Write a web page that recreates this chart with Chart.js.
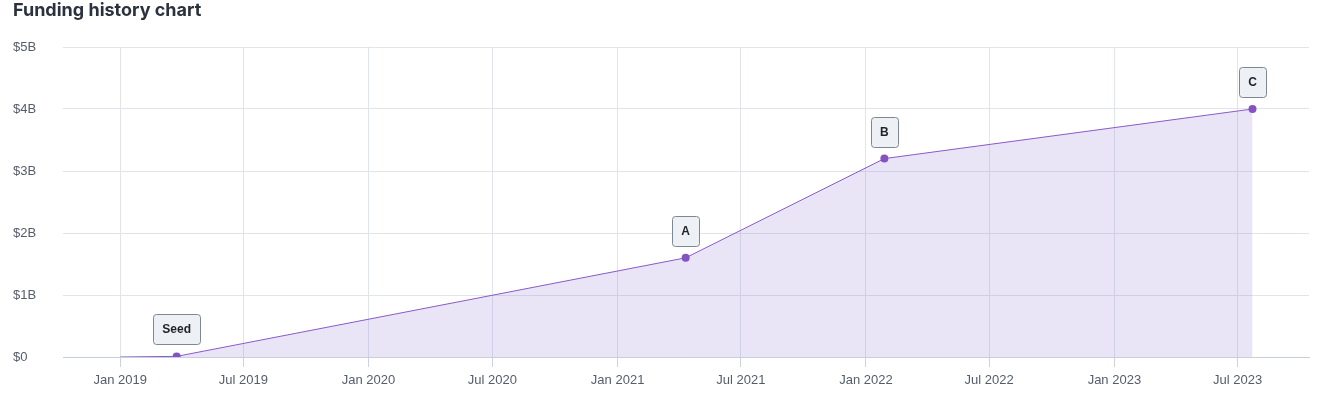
<!DOCTYPE html>
<html>
<head>
<meta charset="utf-8">
<script src="https://cdn.jsdelivr.net/npm/chart.js@4.4.1/dist/chart.umd.min.js"></script>
<style>
  html, body { margin: 0; padding: 0; background: #fff; }
  #wrap { width: 1329px; height: 396px; position: relative; }
</style>
</head>
<body>
<div id="wrap"><canvas id="fundingChart"></canvas></div>
<script>
// funding rounds (values in $B)
const roundDates = ['2019-01-01', '2019-03-25', '2021-04-11', '2022-01-28', '2023-07-23'];
const roundValues = [0, 0.01, 1.6, 3.2, 4.0];
const roundLabels = ['', 'Seed', 'A', 'B', 'C'];

// x axis ticks and range
const tickDates = ['2019-01-01', '2019-07-01', '2020-01-01', '2020-07-01', '2021-01-01',
                   '2021-07-01', '2022-01-01', '2022-07-01', '2023-01-01', '2023-07-01'];
const rangeStart = '2018-10-09';
const rangeEnd = '2023-10-14';

const monthNames = ['Jan', 'Feb', 'Mar', 'Apr', 'May', 'Jun', 'Jul', 'Aug', 'Sep', 'Oct', 'Nov', 'Dec'];
const ts = (d) => Date.parse(d + 'T00:00:00Z');

const points = roundDates.map((d, i) => ({ x: ts(d), y: roundValues[i] }));

// draws the small boxed round name above each point
const roundLabelPlugin = {
    id: 'roundLabels',
    afterDatasetsDraw(chart) {
        const ctx = chart.ctx;
        const meta = chart.getDatasetMeta(0);
        ctx.save();
        ctx.font = 'bold 12px "Liberation Sans", Arial, sans-serif';
        ctx.textAlign = 'center';
        ctx.textBaseline = 'middle';
        meta.data.forEach((pt, i) => {
            const text = roundLabels[i];
            if (!text) return;
            const w = Math.round(ctx.measureText(text).width) + 18;
            const h = 30;
            const x = Math.round(pt.x - w / 2) + 0.5;
            const y = Math.round(pt.y - 12 - h) + 0.5;
            ctx.beginPath();
            ctx.roundRect(x, y, w, h, 3);
            ctx.fillStyle = '#edf0f5';
            ctx.fill();
            ctx.lineWidth = 1;
            ctx.strokeStyle = '#7f8794';
            ctx.stroke();
            ctx.fillStyle = '#1f2328';
            ctx.fillText(text, pt.x, y + h / 2);
        });
        ctx.restore();
    }
};

new Chart(document.getElementById('fundingChart'), {
    type: 'line',
    data: {
        datasets: [{
            data: points,
            borderColor: '#8a5ac6',
            borderWidth: 1,
            backgroundColor: 'rgba(124, 99, 204, 0.17)',
            fill: 'origin',
            tension: 0,
            pointRadius: (c) => c.dataIndex === 0 ? 0 : 4,
            pointBackgroundColor: '#8552c1',
            pointBorderWidth: 0,
            pointHoverRadius: 4
        }]
    },
    options: {
        responsive: true,
        maintainAspectRatio: false,
        animation: false,
        layout: { padding: { left: 13, right: 20, top: 0, bottom: 0 } },
        scales: {
            x: {
                type: 'linear',
                min: ts(rangeStart),
                max: ts(rangeEnd),
                afterBuildTicks: (scale) => {
                    scale.ticks = tickDates.map(d => ({ value: ts(d) }));
                },
                afterFit: (scale) => { scale.height = 39; },
                grid: {
                    color: '#e1e5eb',
                    tickLength: 10,
                    tickColor: '#ccd3dc'
                },
                border: { color: '#c6cfda' },
                ticks: {
                    color: '#555d6b',
                    padding: 6,
                    maxRotation: 0,
                    autoSkip: false,
                    font: { size: 13, family: '"Liberation Sans", Arial, sans-serif' },
                    callback: (v) => {
                        const d = new Date(v);
                        return monthNames[d.getUTCMonth()] + ' ' + d.getUTCFullYear();
                    }
                }
            },
            y: {
                min: 0,
                max: 5,
                afterFit: (scale) => { scale.width = 50; },
                grid: { color: '#e1e5eb', drawTicks: false },
                border: { display: false },
                ticks: {
                    stepSize: 1,
                    crossAlign: 'far',
                    color: '#555d6b',
                    font: { size: 13, family: '"Liberation Sans", Arial, sans-serif' },
                    callback: (v) => v === 0 ? '$0' : '$' + v + 'B'
                }
            }
        },
        plugins: {
            legend: { display: false },
            tooltip: { enabled: false },
            title: {
                display: true,
                text: 'Funding history chart',
                align: 'start',
                color: '#2b313d',
                font: { size: 18, weight: 'bold', family: 'Inter, "Noto Sans", sans-serif' },
                padding: { top: 0, bottom: 25.4 }
            }
        }
    },
    plugins: [roundLabelPlugin]
});
</script>
</body>
</html>
